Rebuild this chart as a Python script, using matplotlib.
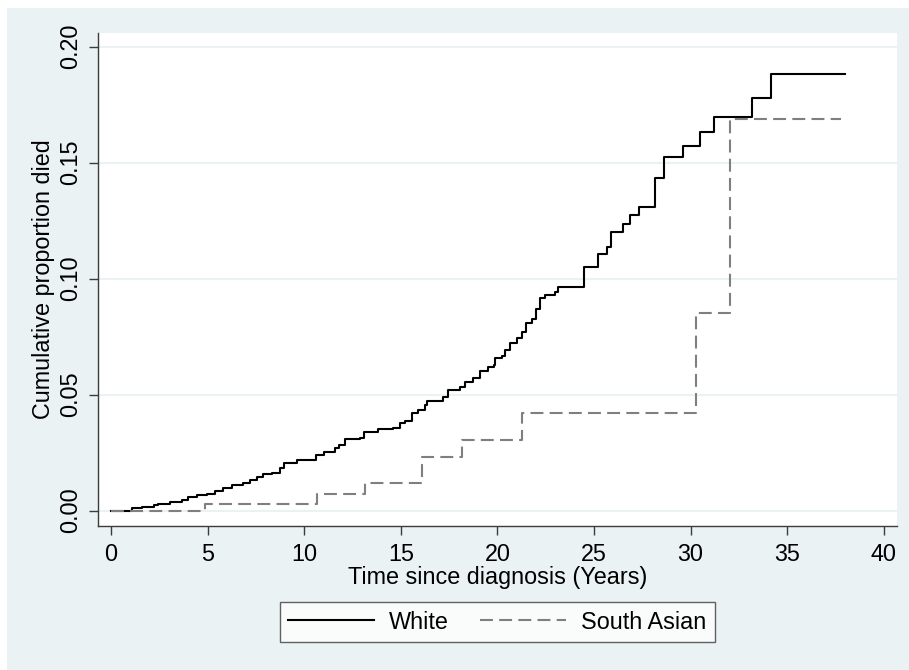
import numpy as np
import matplotlib
matplotlib.use('Agg')
import matplotlib.pyplot as plt
from matplotlib.patches import Rectangle

plt.rcParams['font.family'] = ['Liberation Sans', 'DejaVu Sans']

# cumulative proportion died, step curves (time in years)
white_t = [0, 1.07, 1.59, 2.2, 2.45, 3.05, 3.66, 4.0, 4.44, 4.95, 5.38, 5.81, 6.25,
           6.85, 7.19, 7.54, 7.88, 8.31, 8.75, 8.97, 9.6, 10.6, 11.0, 11.6, 11.8,
           12.1, 12.9, 13.1, 13.84, 14.6, 14.96, 15.2, 15.56, 15.9, 16.25, 16.34,
           17.2, 17.46, 18.06, 18.32, 18.75, 19.1, 19.53, 19.8, 19.88, 20.22, 20.39,
           20.65, 21.0, 21.26, 21.48, 21.78, 22.0, 22.2, 22.47, 22.99, 23.15, 24.5,
           25.2, 25.66, 25.9, 26.5, 26.86, 27.35, 28.15, 28.62, 29.6, 30.5, 31.2,
           33.15, 34.15, 38.0]
white_y = [0, 0.0013, 0.0017, 0.0025, 0.003, 0.0039, 0.0046, 0.0058, 0.0068, 0.0072,
           0.0086, 0.0097, 0.0109, 0.0118, 0.0132, 0.0147, 0.0158, 0.0164, 0.0183,
           0.0207, 0.0219, 0.024, 0.0254, 0.0269, 0.0283, 0.0308, 0.0315, 0.034,
           0.0351, 0.0358, 0.0377, 0.0388, 0.042, 0.0434, 0.0456, 0.0474, 0.0491,
           0.052, 0.0532, 0.0556, 0.0571, 0.06, 0.0621, 0.0628, 0.0657, 0.0667,
           0.0693, 0.0722, 0.0743, 0.0772, 0.0808, 0.0825, 0.0868, 0.0916, 0.093,
           0.0944, 0.0966, 0.1049, 0.1105, 0.1138, 0.1203, 0.1236, 0.1275, 0.131,
           0.1435, 0.1523, 0.1572, 0.1631, 0.1696, 0.178, 0.1882, 0.1882]

sasian_t = [0, 4.87, 10.65, 13.15, 16.08, 18.19, 21.26, 30.28, 32.04, 37.8]
sasian_y = [0, 0.0029, 0.0071, 0.0121, 0.023, 0.0305, 0.042, 0.0853, 0.1687, 0.1687]

xticks = [0, 5, 10, 15, 20, 25, 30, 35, 40]
yticks = [0.00, 0.05, 0.10, 0.15, 0.20]

bg = '#eaf2f3'
axis_col = '#3c3c3c'
fs = 16.8

fig = plt.figure(figsize=(9.09, 6.70), dpi=100, facecolor='white')
# light graph region with a thin white margin top/left
fig.patches.append(Rectangle((7 / 909, 0), 1 - 7 / 909, 1 - 8 / 670,
                             transform=fig.transFigure, facecolor=bg,
                             edgecolor='none', zorder=-10))

ax = fig.add_axes([0.1075, 0.2154, 0.8793, 0.7353])
ax.set_facecolor('white')

ax.step(white_t, white_y, where='post', color='black', lw=1.5, label='White')
ax.step(sasian_t, sasian_y, where='post', color='#7f7f7f', lw=1.5,
        dashes=(6.2, 3.0), label='South Asian')

ax.set_xlim(-0.69, 40.68)
ax.set_ylim(-0.0065, 0.2059)
ax.set_xticks(xticks)
ax.set_yticks(yticks)
ax.set_yticklabels([f'{v:.2f}' for v in yticks], rotation=90, va='center')
ax.grid(axis='y', color=bg, lw=1.5)
ax.set_axisbelow(True)

for s in ['top', 'right']:
    ax.spines[s].set_visible(False)
for s in ['left', 'bottom']:
    ax.spines[s].set_color(axis_col)
    ax.spines[s].set_linewidth(1.0)
ax.tick_params(axis='both', direction='out', length=6.5, width=1.0,
               color=axis_col, labelsize=fs, labelcolor='black')
ax.tick_params(axis='x', pad=6)
ax.tick_params(axis='y', pad=5)

ax.set_xlabel('Time since diagnosis (Years)', fontsize=fs, labelpad=0)
ax.set_ylabel('Cumulative proportion died', fontsize=fs)
ax.yaxis.set_label_coords(-0.053, 0.5)

leg = fig.legend(loc='center', bbox_to_anchor=(0.5468, 0.0716), ncol=2,
                 fontsize=fs, frameon=True, fancybox=False, handlelength=3.7,
                 handletextpad=0.64, columnspacing=1.33, borderpad=0.35)
leg.get_frame().set_edgecolor(axis_col)
leg.get_frame().set_linewidth(1.0)

fig.savefig('out.png', dpi=100, facecolor=fig.get_facecolor())
